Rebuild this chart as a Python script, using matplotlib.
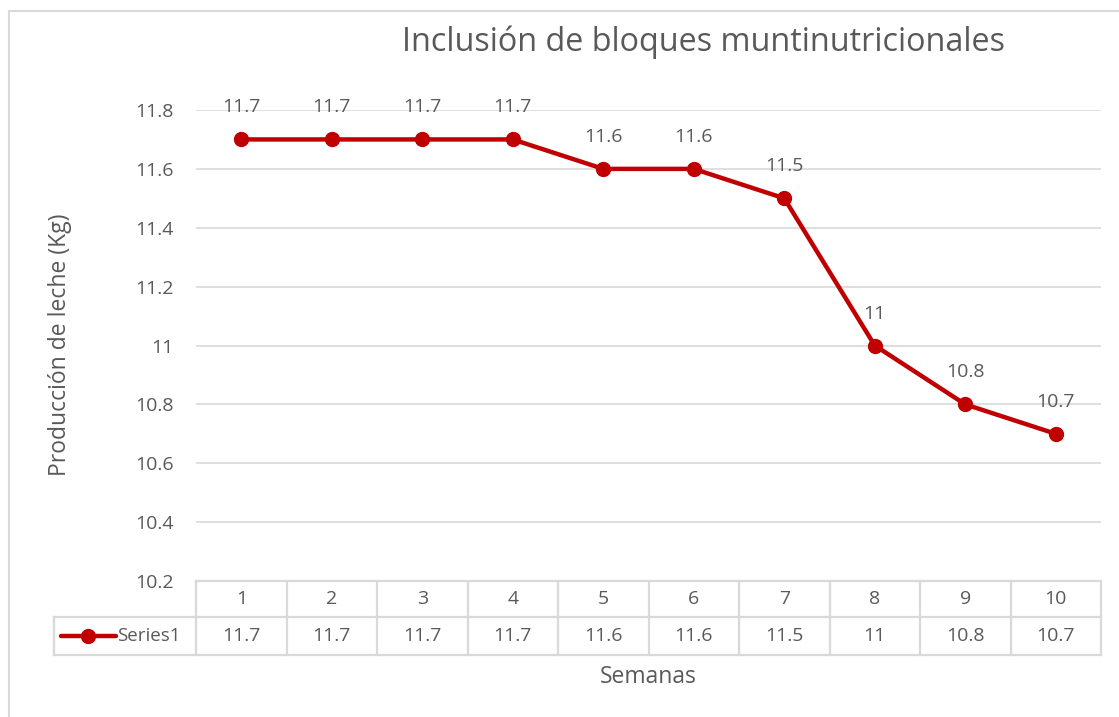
import matplotlib
matplotlib.use("Agg")
import matplotlib.pyplot as plt
from matplotlib.lines import Line2D

semanas = ["1", "2", "3", "4", "5", "6", "7", "8", "9", "10"]
produccion = [11.7, 11.7, 11.7, 11.7, 11.6, 11.6, 11.5, 11.0, 10.8, 10.7]
value_labels = ["11.7", "11.7", "11.7", "11.7", "11.6", "11.6", "11.5", "11", "10.8", "10.7"]
yticks = [10.2, 10.4, 10.6, 10.8, 11.0, 11.2, 11.4, 11.6, 11.8]
ytick_labels = ["10.2", "10.4", "10.6", "10.8", "11", "11.2", "11.4", "11.6", "11.8"]
series_name = "Series1"
title = "Inclusión de bloques muntinutricionales"
ylabel = "Producción de leche (Kg)"
xlabel = "Semanas"

plt.rcParams['font.family'] = ['Open Sans', 'DejaVu Sans']
W, H = 1119, 717
fig = plt.figure(figsize=(W / 100, H / 100), dpi=100)
txt = "#595959"
grid = "#d9d9d9"
red = "#c00000"
fs = 14

def fx(px):
    return px / W

def fy(py):
    return 1 - py / H

left, right, top, bottom = 196, 1101, 110, 581
ax = fig.add_axes([fx(left), fy(bottom), fx(right) - fx(left), fy(top) - fy(bottom)])
n = len(semanas)
xs = list(range(n))
ax.set_xlim(-0.5, n - 0.5)
ax.set_ylim(10.2, 11.8)
for s in ax.spines.values():
    s.set_visible(False)
ax.set_xticks([])
ax.set_yticks(yticks)
ax.set_yticklabels(ytick_labels)
ax.tick_params(axis='y', length=0, labelsize=fs, labelcolor=txt, pad=16)
for yv in yticks[1:]:
    ax.axhline(yv, color=grid, lw=1.2, zorder=0)

ax.plot(xs, produccion, color=red, lw=3.2, marker='o', ms=10, zorder=3, clip_on=False)
for x, v, l in zip(xs, produccion, value_labels):
    ax.annotate(l, (x, v), xytext=(0, 23), textcoords='offset points', ha='center',
                va='center', fontsize=fs, color=txt)

# Data table
row1_top, row1_bot, row2_bot = 581, 617, 655
label_left = 54
lw_t = 1.6
def hline(y, x0, x1):
    fig.add_artist(Line2D([fx(x0), fx(x1)], [fy(y), fy(y)], color=grid, lw=lw_t))
def vline(x, y0, y1):
    fig.add_artist(Line2D([fx(x), fx(x)], [fy(y0), fy(y1)], color=grid, lw=lw_t))

hline(row1_top, left, right)
hline(row1_bot, label_left, right)
hline(row2_bot, label_left, right)
vline(label_left, row1_bot, row2_bot)
cw = (right - left) / n
for i in range(n + 1):
    vline(left + i * cw, row1_top, row2_bot)
for i in range(n):
    cx = left + (i + 0.5) * cw
    fig.text(fx(cx), fy((row1_top + row1_bot) / 2), semanas[i], ha='center', va='center',
             fontsize=fs, color=txt)
    fig.text(fx(cx), fy((row1_bot + row2_bot) / 2), value_labels[i], ha='center', va='center',
             fontsize=fs, color=txt)
# legend key
ky = fy((row1_bot + row2_bot) / 2)
fig.add_artist(Line2D([fx(61), fx(116)], [ky, ky], color=red, lw=3.2, solid_capstyle='round'))
fig.add_artist(Line2D([fx(88)], [ky], color=red, marker='o', ms=10, lw=0))
fig.text(fx(117), ky, series_name, ha='left', va='center', fontsize=fs - 0.5, color=txt)

# Titles
fig.text(fx(703), fy(42), title, ha='center', va='center', fontsize=23.3, color=txt)
fig.text(fx(60), fy(345), ylabel, ha='center', va='center', rotation=90, fontsize=16.5, color=txt)
fig.text(fx(648), fy(677), xlabel, ha='center', va='center', fontsize=16.5, color=txt)

# chart border
fig.add_artist(Line2D([fx(9), fx(9)], [fy(11), 0], color=grid, lw=1.5))
fig.add_artist(Line2D([fx(9), 1], [fy(11), fy(11)], color=grid, lw=1.5))

fig.savefig("out.png", dpi=100)
